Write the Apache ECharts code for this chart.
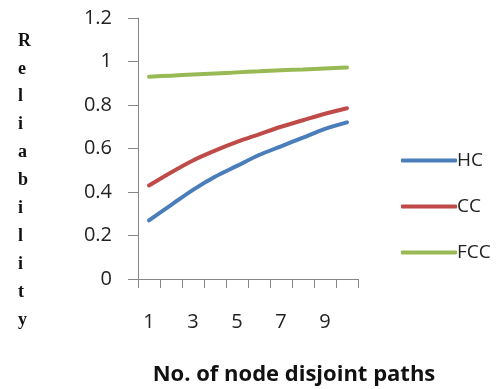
<!DOCTYPE html>
<html><head><meta charset="utf-8">
<script src="https://cdn.jsdelivr.net/npm/echarts@6/dist/echarts.min.js"></script>
<style>html,body{margin:0;padding:0;background:#fff}#c{width:500px;height:389px}</style>
</head><body><div id="c"></div>
<script>
const categories = ['1','2','3','4','5','6','7','8','9','10'];
const hc  = [0.27, 0.34, 0.41, 0.47, 0.52, 0.57, 0.61, 0.65, 0.69, 0.72];
const cc  = [0.43, 0.49, 0.545, 0.59, 0.63, 0.665, 0.70, 0.73, 0.76, 0.785];
const fcc = [0.93, 0.935, 0.94, 0.945, 0.95, 0.955, 0.96, 0.963, 0.968, 0.972];
const seriesNames = ['HC','CC','FCC'];
const yTitle = 'Reliability';
const xTitle = 'No. of node disjoint paths';

const colors = ['#4a7ebb','#be4b48','#98b954'];
const chart = echarts.init(document.getElementById('c'), null, {renderer:'canvas'});
const font = '"Open Sans", "Liberation Sans", sans-serif';
const mk = (name, data, i) => ({
  name, type:'line', data, smooth:0.3, symbol:'none',
  lineStyle:{width:4, color:colors[i], cap:'round'}, itemStyle:{color:colors[i]}
});
chart.setOption({
  animation:false,
  grid:{left:138, right:142, top:18, bottom:110},
  title:{
    text: yTitle.split('').join('\n'), left:13, top:22,
    textStyle:{fontFamily:'"Liberation Serif", "DejaVu Serif", serif', fontWeight:'bold', fontSize:18, lineHeight:27.9, color:'#111'}
  },
  graphic:[{type:'text', x:294, y:375,
    style:{text:xTitle, font:'bold 22px "Open Sans", sans-serif', fill:'#111', align:'center', verticalAlign:'middle'}}],
  legend:{
    orient:'vertical', left:396, top:146, itemWidth:56, itemHeight:4, itemGap:27,
    icon:'roundRect',
    textStyle:{fontFamily:font, fontSize:19, color:'#222', padding:[0,0,0,-5]},
    data:seriesNames
  },
  xAxis:{
    type:'category', data:categories, boundaryGap:true,
    axisLine:{lineStyle:{color:'#868686', width:1}},
    axisTick:{show:true, interval:0, length:9, lineStyle:{color:'#868686'}},
    axisLabel:{interval:1, margin:33, fontFamily:font, fontSize:20, color:'#222'}
  },
  yAxis:{
    type:'value', min:0, max:1.2, interval:0.2,
    splitLine:{show:false},
    axisLine:{show:true, lineStyle:{color:'#868686', width:1}},
    axisTick:{show:true, length:10, lineStyle:{color:'#868686'}},
    axisLabel:{margin:26, fontFamily:font, fontSize:20, color:'#222',
      formatter:v => String(Math.round(v*10)/10)}
  },
  series:[mk(seriesNames[0], hc, 0), mk(seriesNames[1], cc, 1), mk(seriesNames[2], fcc, 2)]
});
</script></body></html>
